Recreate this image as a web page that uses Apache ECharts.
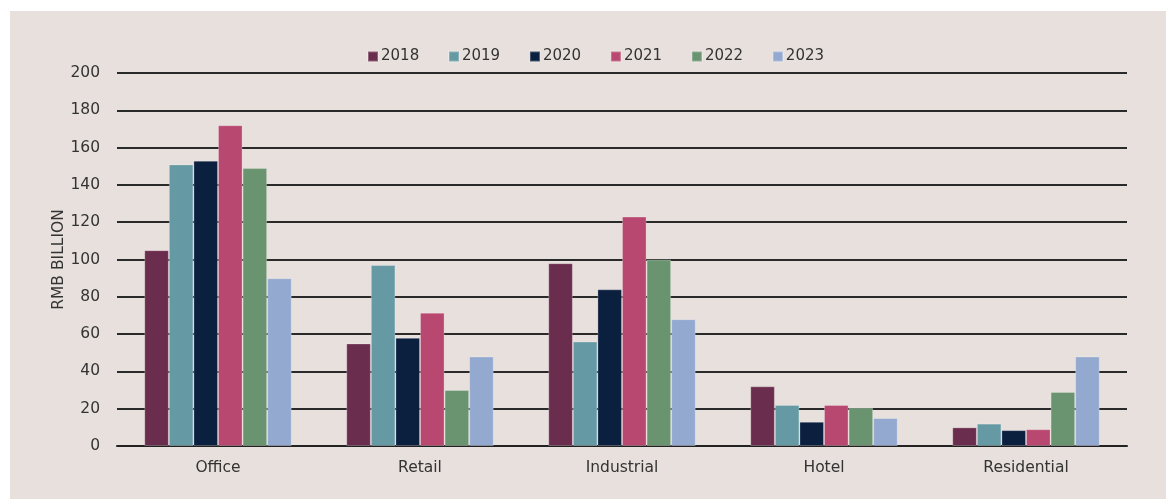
<!DOCTYPE html>
<html>
<head>
<meta charset="utf-8">
<script src="https://cdn.jsdelivr.net/npm/echarts@6/dist/echarts.min.js"></script>
<style>
  html, body { margin: 0; padding: 0; background: #ffffff; }
  #chart { position: absolute; left: 10px; top: 11px; width: 1156px; height: 488px; background: #e7e0dc; }
</style>
</head>
<body>
<div id="chart"></div>
<script>
const categories = ["Office", "Retail", "Industrial", "Hotel", "Residential"];
const years = ["2018", "2019", "2020", "2021", "2022", "2023"];
const colors = ["#6b2d4e", "#6599a3", "#0b1f3f", "#b94870", "#6a9370", "#94a9cf"];

// RMB billion
const v2018 = [105, 55, 98, 32, 10];
const v2019 = [151, 97, 56, 22, 12];
const v2020 = [153, 58, 84, 13, 8.5];
const v2021 = [172, 71.5, 123, 22, 9];
const v2022 = [149, 30, 100, 20.5, 29];
const v2023 = [90, 48, 68, 15, 48];
const yTicks = [0, 20, 40, 60, 80, 100, 120, 140, 160, 180, 200];

const values = [v2018, v2019, v2020, v2021, v2022, v2023];
const font = "'DejaVu Sans', sans-serif";
const textColor = "#333";

const chart = echarts.init(document.getElementById("chart"));

chart.setOption({
  animation: false,
  textStyle: { fontFamily: font },
  legend: {
    top: 33,
    left: 352,
    itemWidth: 10,
    itemHeight: 10,
    itemGap: 28.8,
    icon: "rect",
    textStyle: { fontSize: 15, color: textColor, padding: [0, 0, 0, -2] },
    data: years
  },
  grid: { left: 107, right: 39, top: 62, bottom: 53 },
  xAxis: {
    type: "category",
    data: categories,
    axisLine: { lineStyle: { color: "#222", width: 2 } },
    axisTick: { show: false },
    axisLabel: { fontSize: 15.5, color: textColor, margin: 14 }
  },
  yAxis: {
    type: "value",
    min: yTicks[0],
    max: yTicks[yTicks.length - 1],
    interval: 20,
    name: "RMB BILLION",
    nameLocation: "middle",
    nameRotate: 90,
    nameGap: 50,
    nameMoveOverlap: false,
    nameTextStyle: { fontSize: 15.5, color: textColor },
    axisLine: { show: false },
    axisTick: { show: false },
    axisLabel: { fontSize: 15.5, color: textColor, margin: 17 },
    splitLine: { lineStyle: { color: "#2a2a2a", width: 2 } }
  },
  series: years.map((y, i) => ({
    name: y,
    type: "bar",
    data: values[i],
    barGap: "0%",
    barCategoryGap: "27%",
    itemStyle: {
      color: colors[i],
      borderColor: "rgba(255,255,255,0.25)",
      borderWidth: 1
    }
  }))
});
</script>
</body>
</html>
